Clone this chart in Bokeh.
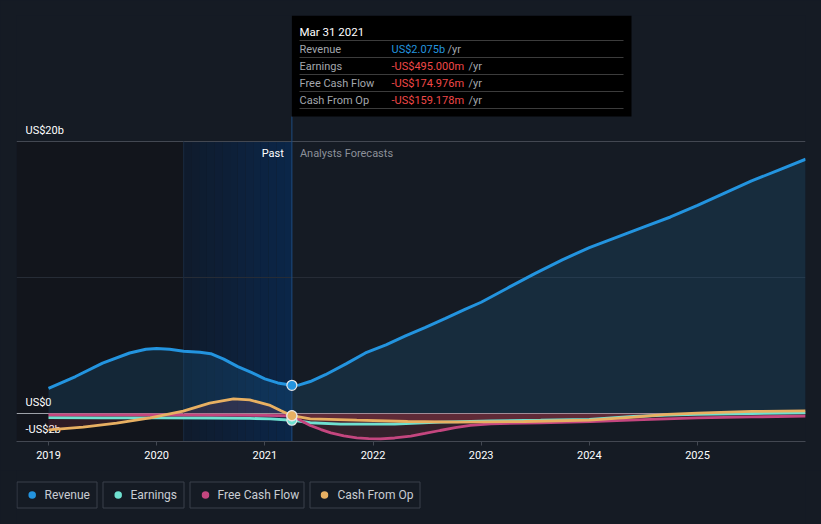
from bokeh.plotting import figure
from bokeh.layouts import column
from bokeh.models import Range1d, FixedTicker, BoxAnnotation
from bokeh.core.properties import value
from bokeh.embed import file_html
from bokeh.resources import INLINE

# ---------------- data (US$ billions, decimal years) ----------------
rev_x = [2019.00, 2019.25, 2019.50, 2019.75, 2019.90, 2020.00, 2020.12, 2020.25, 2020.40,
         2020.50, 2020.62, 2020.75, 2020.88, 2021.00, 2021.12, 2021.25, 2021.32, 2021.42,
         2021.56, 2021.75, 2021.93, 2022.12, 2022.30, 2022.48, 2022.67, 2022.85, 2023.00,
         2023.25, 2023.50, 2023.75, 2024.00, 2024.25, 2024.50, 2024.75, 2025.00, 2025.25,
         2025.50, 2025.75, 2026.00]
rev_y = [1.84, 2.72, 3.70, 4.45, 4.72, 4.78, 4.72, 4.58, 4.50,
         4.40, 4.00, 3.45, 3.00, 2.55, 2.25, 2.075, 2.10, 2.35,
         2.85, 3.65, 4.45, 5.05, 5.70, 6.32, 7.00, 7.65, 8.18,
         9.25, 10.30, 11.30, 12.20, 12.95, 13.70, 14.45, 15.30, 16.20,
         17.10, 17.90, 18.70]

earn_x = [2019.00, 2019.50, 2020.00, 2020.50, 2020.86, 2021.05, 2021.25, 2021.42, 2021.70,
          2022.20, 2022.62, 2023.09, 2023.55, 2024.00, 2024.41, 2024.72, 2025.00, 2025.50, 2026.00]
earn_y = [-0.30, -0.32, -0.32, -0.33, -0.36, -0.40, -0.495, -0.68, -0.78,
          -0.78, -0.64, -0.54, -0.49, -0.43, -0.22, -0.12, -0.07, 0.00, 0.05]

fcf_x = [2019.00, 2020.00, 2020.75, 2021.00, 2021.25, 2021.34, 2021.42, 2021.52, 2021.61,
         2021.73, 2021.85, 2021.96, 2022.07, 2022.20, 2022.35, 2022.48, 2022.62, 2022.76,
         2022.90, 2023.09, 2023.55, 2024.01, 2024.50, 2025.00, 2025.50, 2026.00]
fcf_y = [-0.10, -0.10, -0.12, -0.14, -0.175, -0.55, -0.88, -1.18, -1.42,
         -1.64, -1.79, -1.85, -1.86, -1.80, -1.67, -1.47, -1.25, -1.04,
         -0.88, -0.76, -0.68, -0.60, -0.45, -0.32, -0.25, -0.20]

cfo_x = [2019.00, 2019.32, 2019.63, 2019.94, 2020.245, 2020.49, 2020.71, 2020.86, 2021.05,
         2021.15, 2021.25, 2021.42, 2021.85, 2022.32, 2022.78, 2023.40, 2024.00, 2024.41,
         2024.72, 2025.00, 2025.50, 2026.00]
cfo_y = [-1.20, -1.00, -0.71, -0.32, 0.17, 0.76, 1.08, 1.00, 0.59,
         0.20, -0.159, -0.39, -0.49, -0.59, -0.64, -0.59, -0.48, -0.27,
         -0.07, 0.03, 0.15, 0.20]

series_names = ["Revenue", "Earnings", "Free Cash Flow", "Cash From Op"]
series_colors = ["#2394df", "#6fe0d0", "#c4467f", "#e8b062"]

current_x = 2021.25
past_start = 2020.25
current_vals = [2.075, -0.495, -0.175, -0.159]
tooltip_date = "Mar 31 2021"
tooltip_values = ["US$2.075b", "-US$495.000m", "-US$174.976m", "-US$159.178m"]

year_ticks = [2019, 2020, 2021, 2022, 2023, 2024, 2025]
year_labels = ["2019", "2020", "2021", "2022", "2023", "2024", "2025"]
y_ticks = [-2, 0, 20]
y_tick_labels = ["-US$2b", "US$0", "US$20b"]

# ---------------- page-pixel helpers (layout only) ----------------
PX_YEAR = (697 - 48) / 6.0
PX_B = 13.6
ZERO_PY = 413.0
X_START = 2019 - (48 - 16) / PX_YEAR


def X(px):
    return X_START + (px - 16) / PX_YEAR


def Y(py):
    return (ZERO_PY - py) / PX_B


BG = "#151b24"
FONT = value("Roboto")

p = figure(width=821, height=470, output_backend="svg", toolbar_location=None,
           x_range=Range1d(X(16), X(805)), y_range=Range1d(Y(441), Y(15)),
           min_border_left=16, min_border_right=16, min_border_top=15, min_border_bottom=29,
           y_axis_location=None, background_fill_color=BG, border_fill_color=BG,
           outline_line_color=None)
p.grid.visible = False

# background regions
p.add_layout(BoxAnnotation(right=past_start, top=20, fill_color="#12151c", fill_alpha=1,
                           line_color=None, level="underlay"))
steps = 14
grad_start = (15, 27, 45)
grad_end = (11, 38, 72)
w = (current_x - past_start) / steps
for i in range(steps):
    t = i / (steps - 1)
    c = tuple(int(round(a + (b - a) * t)) for a, b in zip(grad_start, grad_end))
    p.add_layout(BoxAnnotation(left=past_start + i * w, right=past_start + (i + 1) * w, top=20,
                               fill_color="#%02x%02x%02x" % c, fill_alpha=1,
                               line_color=None, level="underlay"))

# horizontal grid lines
grid_colors = {20: "#434852", 0: "#9da1a8"}
for yt in y_ticks:
    if yt in grid_colors:
        p.segment(x0=[X(16)], y0=[yt], x1=[X(805)], y1=[yt], line_color=grid_colors[yt], line_width=1)
p.segment(x0=[X(16)], y0=[10], x1=[X(805)], y1=[10], line_color="#262c36", line_width=1)
p.segment(x0=[past_start], y0=[Y(441)], x1=[past_start], y1=[20], line_color="#1a2b42", line_width=1)

# y tick labels inside plot
p.text(x=[X(25)] * len(y_ticks), y=y_ticks, text=y_tick_labels, text_font=FONT,
       text_font_size="11px", text_color="#ffffff", text_baseline="bottom", y_offset=-5)

# Past / Analysts Forecasts
p.text(x=[current_x], y=[20], text=["Past"], text_font=FONT, text_font_size="11px",
       text_color="#ffffff", text_align="right", text_baseline="middle", x_offset=-8, y_offset=12)
p.text(x=[current_x], y=[20], text=["Analysts Forecasts"], text_font=FONT, text_font_size="11px",
       text_color="#8c9099", text_align="left", text_baseline="middle", x_offset=8, y_offset=12)

# fills
p.varea(x=rev_x, y1=[0] * len(rev_x), y2=rev_y, fill_color=series_colors[0], fill_alpha=0.14)
for xs, ys in [(earn_x, earn_y), (fcf_x, fcf_y), (cfo_x, cfo_y)]:
    p.varea(x=xs, y1=[0] * len(xs), y2=ys, fill_color="#e0485a", fill_alpha=0.14)

# current vertical line
p.segment(x0=[current_x], y0=[Y(441)], x1=[current_x], y1=[Y(116)], line_color="#1d4c80", line_width=1)

# lines
p.line(rev_x, rev_y, line_color=series_colors[0], line_width=3)
p.line(earn_x, earn_y, line_color=series_colors[1], line_width=2.8)
p.line(fcf_x, fcf_y, line_color=series_colors[2], line_width=2.8)
p.line(cfo_x, cfo_y, line_color=series_colors[3], line_width=2.8)

p.scatter(x=[current_x] * 4, y=current_vals, size=10, fill_color=series_colors,
          line_color="#e8e8e8", line_width=1.2)

# tooltip box
p.quad(left=[current_x], right=[X(631)], bottom=[Y(116)], top=[Y(15)], fill_color="#000000",
       line_color=None)
p.text(x=[X(299)], y=[Y(31)], text=[tooltip_date], text_font=FONT, text_font_size="11.5px",
       text_color="#ffffff", text_baseline="middle")
sep_y = [Y(40), Y(57), Y(74), Y(91), Y(108)]
p.segment(x0=[X(299)] * 5, y0=sep_y, x1=[X(623)] * 5, y1=sep_y, line_color="#3c3c3c", line_width=1)
row_y = [Y(48.5), Y(65.5), Y(82.5), Y(99.5)]
p.text(x=[X(299)] * 4, y=row_y, text=series_names, text_font=FONT,
       text_font_size="11px", text_color="#a3a7ad", text_baseline="middle")
val_colors = ["#2394df", "#f04848", "#f04848", "#f04848"]
p.text(x=[X(391)] * 4, y=row_y, text=tooltip_values, text_font=FONT, text_font_size="11px",
       text_color=val_colors, text_baseline="middle")
p.text(x=[X(447), X(468), X(468), X(468)], y=row_y, text=["/yr"] * 4, text_font=FONT,
       text_font_size="11px", text_color="#a3a7ad", text_baseline="middle")

# x axis
ax = p.xaxis[0]
ax.ticker = FixedTicker(ticks=year_ticks)
ax.major_label_overrides = {t: l for t, l in zip(year_ticks, year_labels)}
ax.axis_line_color = "#434852"
ax.major_tick_line_color = "#434852"
ax.major_tick_in = 0
ax.major_tick_out = 4
ax.minor_tick_line_color = None
ax.major_label_text_color = "#ffffff"
ax.major_label_text_font = "Roboto"
ax.major_label_text_font_size = "11px"
ax.major_label_standoff = 5

# ---------------- legend strip (page-pixel coordinates, y downward) ----------------
leg = figure(width=821, height=54, output_backend="svg", toolbar_location=None,
             x_range=Range1d(16, 805), y_range=Range1d(54, 0),
             min_border_left=16, min_border_right=16, min_border_top=0, min_border_bottom=0,
             x_axis_location=None, y_axis_location=None, background_fill_color=BG,
             border_fill_color=BG, outline_line_color=None)
leg.grid.visible = False
box_left = [16.5, 102.5, 189.5, 309.5]
box_right = [96.5, 183.5, 303.5, 419.5]
dot_x = [31.7, 117.7, 205, 324]
text_x = [44, 130, 217, 337]
leg.quad(left=box_left, right=box_right, top=[11.5] * 4, bottom=[37.5] * 4,
         fill_color=None, line_color="#3a404b", line_width=1)
leg.scatter(x=dot_x, y=[24.5] * 4, size=7.5, fill_color=series_colors, line_color=None)
leg.text(x=text_x, y=[24.5] * 4, text=series_names, text_font=FONT, text_font_size="12px",
         text_color="#c9cdd3", text_baseline="middle", text_align="left")

layout = column(p, leg, spacing=0)
html = file_html(layout, INLINE)
html = html.replace("<head>", "<head><style>body{background:#151b24;}</style>", 1)
open("out.html", "w").write(html)
